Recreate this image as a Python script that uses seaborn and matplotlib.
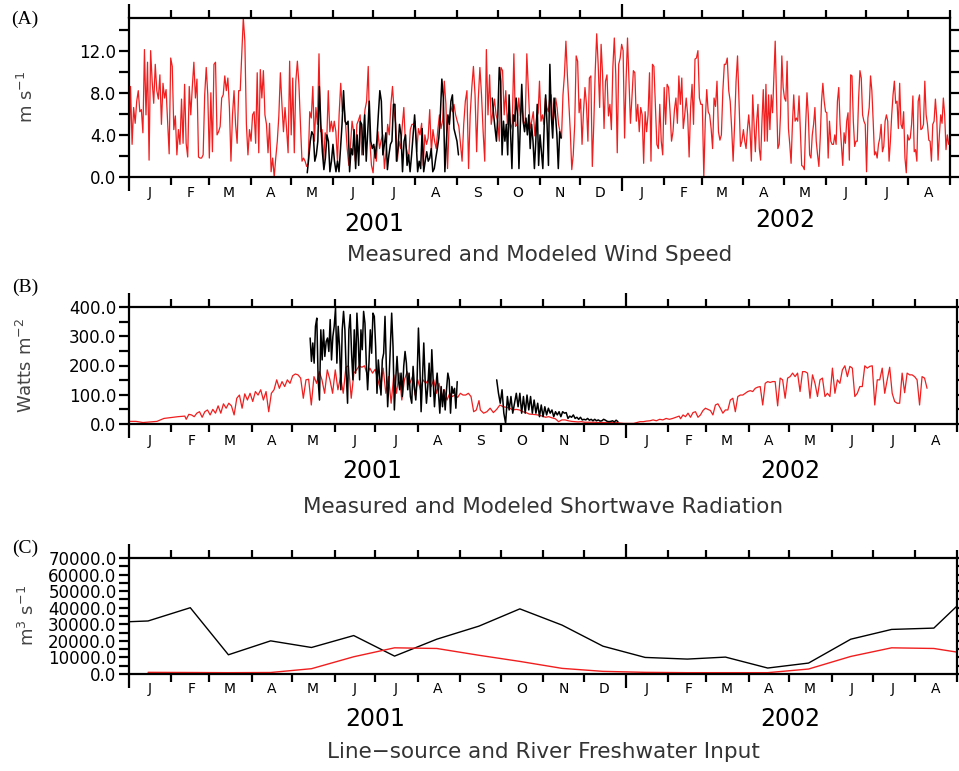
import numpy as np
import pandas as pd
import seaborn as sns
import matplotlib.pyplot as plt
import matplotlib.dates as mdates
import matplotlib.ticker as mticker

sns.set_style('ticks', {'axes.edgecolor': 'black', 'xtick.color': 'black', 'ytick.color': 'black',
                        'text.color': 'black'})
plt.rcParams['font.family'] = ['DejaVu Sans']

# ---- (A) wind speed, m/s ----
# modelled wind, read in four chunks along the time axis
wind_mod_1 = [2.4, 8.6, 3.1, 6.6, 5.1, 7.2, 8.2, 6.2, 6.4, 4.2, 12.1, 5.9, 10.9, 1.6, 12.0, 9.1, 7.0, 10.7,
              8.2, 7.4, 9.7, 5.0, 8.9, 7.5, 8.3, 5.3, 2.2, 11.3, 10.5, 4.5, 5.8, 2.1, 4.5, 3.1, 7.4, 3.2,
              8.8, 3.2, 1.9, 8.6, 5.9, 8.6, 10.9, 7.5, 9.3, 1.9, 1.8, 1.8, 2.1, 7.8, 10.4, 7.8, 1.8, 8.0,
              2.4, 10.7, 10.9, 4.0, 4.3, 4.8, 7.5, 7.8, 9.6, 8.2, 9.4, 6.6, 1.5, 5.9, 8.2, 5.0, 3.2, 8.2,
              8.2, 11.7, 15.1, 12.9, 5.0, 2.1, 4.5, 3.4, 5.9, 6.2, 3.2, 9.9, 2.3, 10.2, 7.5, 10.1, 5.9,
              5.0, 2.3, 5.1, 0.5, 1.8, 0.0, 1.8, 3.4, 5.8, 9.9, 6.9, 4.3, 6.6, 4.6, 2.3, 11.0, 4.0, 9.4,
              2.3, 9.1, 11.0, 8.8, 5.0, 1.5, 1.8, 1.5, 1.0, 1.3, 6.2, 5.6, 8.6, 3.4, 6.6, 5.0, 11.7, 4.3,
              4.5, 1.5, 4.2, 3.4, 8.2, 4.3, 5.3, 4.3]
wind_mod_2 = [5.3, 4.3, 1.5, 5.9, 8.9, 6.2, 6.9, 5.0, 2.7, 1.1, 2.9, 5.3, 4.3, 1.5, 5.0, 5.4, 5.9, 2.1,
              4.6, 6.4, 7.2, 10.5, 3.4, 1.1, 0.4, 2.9, 1.5, 4.3, 2.7, 3.5, 4.0, 0.8, 2.4, 5.0, 4.0, 6.9,
              8.6, 6.2, 5.0, 1.5, 3.4, 2.7, 4.8, 6.6, 3.1, 2.4, 1.8, 4.5, 5.0, 5.0, 5.3, 2.4, 4.6, 4.0,
              5.1, 1.1, 4.0, 3.1, 3.7, 6.4, 2.4, 4.5, 3.4, 2.7, 4.5, 5.9, 4.6, 5.4, 9.1, 6.9, 0.8, 5.0,
              6.7, 6.2, 6.9, 5.9, 5.3, 4.8, 3.1, 1.5, 5.0, 7.2, 8.2, 0.8, 5.9, 8.5, 10.5, 7.8, 2.4, 7.4,
              10.4, 7.8, 4.3, 1.5, 12.1, 5.9, 9.7, 5.0, 6.2, 7.4, 5.9, 5.3, 3.4, 10.4, 10.1, 5.9, 8.2,
              5.0, 6.6, 4.5, 5.1, 11.7, 4.8, 5.0, 7.5, 5.8, 6.7, 5.0, 5.3, 11.7, 8.2, 4.6, 5.3, 6.2,
              3.9, 5.6, 6.1]
wind_mod_3 = [9.1, 5.3, 5.9, 5.0, 7.5, 6.6, 6.2, 7.5, 7.8, 5.0, 5.9, 7.5, 6.6, 5.0, 4.3, 3.7, 7.8, 9.7,
              12.9, 9.7, 6.9, 4.3, 0.7, 2.1, 5.0, 11.5, 11.0, 6.1, 7.4, 3.1, 6.2, 8.5, 6.9, 3.4, 9.4,
              9.6, 1.0, 5.0, 10.1, 13.6, 10.7, 6.6, 12.6, 9.7, 4.6, 9.1, 9.7, 5.8, 6.9, 4.5, 10.4, 13.2,
              9.7, 2.3, 10.7, 11.3, 12.6, 12.0, 3.7, 9.1, 13.2, 9.1, 5.1, 7.5, 10.1, 9.9, 5.3, 6.9, 4.3,
              6.6, 5.9, 1.3, 6.2, 4.3, 5.9, 9.9, 1.5, 10.7, 10.5, 6.9, 3.1, 2.7, 6.9, 3.4, 2.1, 8.5, 5.0,
              8.8, 8.5, 6.2, 3.4, 4.3, 6.4, 7.5, 5.1, 9.6, 6.9, 9.4, 4.6, 5.9, 7.5, 5.9, 1.9, 6.6, 8.8,
              5.0, 11.2, 11.3, 12.0, 7.5, 6.9, 6.9, 0.0, 5.3, 8.3, 6.2, 5.9, 4.6, 2.7, 7.5, 6.7, 9.1,
              4.3, 3.5, 4.0, 8.2, 10.7, 10.7, 11.3, 8.2, 7.2, 4.6, 1.5, 5.0, 9.1, 11.5, 7.2, 2.9, 3.4,
              4.5]
wind_mod_4 = [3.4, 2.7, 4.5, 5.9, 4.3, 1.5, 7.8, 5.0, 2.4, 5.3, 6.9, 2.7, 1.6, 5.3, 8.3, 3.4, 8.8, 3.4,
              7.8, 4.5, 7.8, 6.1, 9.4, 12.9, 7.5, 2.7, 3.1, 5.9, 11.5, 8.5, 7.5, 7.2, 11.0, 4.6, 3.1,
              1.3, 5.0, 7.8, 5.3, 5.6, 5.3, 7.7, 4.3, 1.1, 1.0, 0.7, 5.0, 8.0, 5.9, 2.1, 1.8, 4.0, 5.0,
              6.6, 3.4, 2.1, 1.0, 3.7, 7.2, 8.9, 7.2, 6.2, 6.1, 1.8, 5.3, 3.4, 3.1, 3.1, 4.0, 3.1, 7.2,
              8.5, 5.0, 3.1, 1.1, 4.2, 3.2, 5.3, 6.1, 1.6, 9.7, 9.6, 5.3, 2.9, 3.4, 3.4, 7.5, 10.1, 9.4,
              5.9, 5.3, 5.0, 0.5, 5.6, 6.6, 9.6, 8.2, 5.3, 2.1, 2.4, 1.8, 3.1, 3.7, 5.0, 2.4, 2.9, 5.3,
              5.9, 5.3, 1.5, 3.4, 5.9, 7.8, 9.1, 7.0, 7.2, 4.6, 8.9, 5.0, 4.6, 6.2, 1.8, 0.4, 4.0, 3.5,
              3.7, 5.0, 7.7, 2.4, 2.6, 1.5, 7.2, 7.8, 4.5, 4.6, 5.0, 9.1, 5.9, 5.0, 3.5, 3.4, 1.5, 5.0,
              5.3, 7.4, 5.6, 1.6, 4.0, 5.9, 5.1, 7.5, 5.9, 2.6, 4.0, 3.1]
wind_mod_spans = [('2001-01-01', '2001-06-01'), ('2001-06-02', '2001-10-31'),
                  ('2001-11-01', '2002-04-01'), ('2002-04-02', '2002-08-31')]

# measured wind (two records with a gap)
wind_obs_1 = [0.4, 1.8, 3.4, 4.3, 4.0, 1.5, 2.1, 3.4, 8.6, 5.0, 2.4, 0.7, 1.8, 4.0, 3.4, 0.5, 1.5, 3.1,
              1.5, 0.5, 1.5, 0.5, 2.7, 5.0, 8.2, 5.3, 5.0, 5.3, 0.5, 2.7, 2.1, 4.5, 0.8, 4.0, 1.1, 5.3,
              5.0, 2.1, 5.9, 1.5, 4.3, 7.2, 3.4, 2.7, 3.1, 1.8, 3.4, 5.9, 8.2, 7.2, 2.1, 3.1, 4.2, 0.7,
              2.1, 3.1, 3.4, 6.9, 6.9, 1.5, 2.7, 5.0, 4.0, 0.5, 3.4, 4.0, 1.1, 2.1, 0.5, 2.1, 4.0, 5.9,
              3.4, 0.5, 1.5, 0.8, 4.6, 0.5, 1.5, 2.4, 1.5, 1.8, 2.7, 0.5, 0.8, 1.8, 2.7, 3.7, 5.9, 9.3,
              7.5, 0.5, 3.4, 5.9, 5.0, 7.2, 7.8, 4.6, 4.0, 3.4, 2.1]
wind_obs_2 = [7.5, 5.9, 4.6, 3.4, 5.9, 10.4, 9.1, 2.1, 5.3, 3.4, 5.0, 2.1, 7.8, 4.3, 0.8, 5.9, 5.3, 7.5,
              5.9, 0.8, 5.0, 8.8, 5.3, 4.3, 5.6, 4.0, 5.9, 2.7, 5.0, 3.4, 0.8, 3.4, 6.9, 1.1, 4.0, 2.4,
              0.8, 5.0, 7.8, 5.0, 1.1, 10.7, 5.9, 3.7, 7.5, 5.9, 4.0, 0.8, 4.3, 3.7]
wind_obs_spans = [('2001-05-13', '2001-09-02'), ('2001-09-27', '2001-11-17')]

# ---- (B) shortwave radiation, W/m2 ----
sw_mod_1 = [9, 9, 5, 7, 9, 19, 22, 25, 27]
sw_mod_2 = [16, 33, 31, 25, 37, 42, 23, 42, 48, 31, 50, 37, 62, 37, 69, 54, 71, 62, 31, 88, 99, 54, 103,
            82, 105, 77, 111, 99, 117, 82, 111, 42, 105, 117, 151, 122, 145, 128, 151, 139, 165, 171, 168,
            157, 88, 151, 153, 65, 162, 139, 179, 151, 105, 185, 151, 105, 185, 117, 162, 105, 194, 199,
            88, 174, 185, 199, 194, 199, 168, 191, 174, 187, 151, 117, 191, 105, 162, 71, 168, 105, 174,
            82, 151, 179, 139, 162, 99, 151, 117, 151, 139, 151, 128, 151, 105, 139, 88, 117, 82, 105,
            94, 99, 91, 105, 99, 99, 105, 94, 42, 48, 80]
sw_mod_3 = [48, 37, 42, 54, 39, 50, 65, 59, 57, 54, 48, 50, 48, 42, 39, 34, 33, 32, 30, 27, 23, 25, 21,
            18, 8, 14, 14, 11, 9, 8, 7, 8, 6, 6, 6, 6, 5, 5, 5, 5, 5, 5, 5, 3, 2, 2, 2, 2, 5, 8, 8, 10,
            11, 14, 11, 16, 14, 19, 16, 19, 23, 27]
sw_mod_4 = [18, 31, 25, 37, 23, 39, 42, 23, 31, 46, 54, 50, 46, 31, 65, 69, 54, 37, 48, 48, 82, 88, 42,
            94, 99, 99, 105, 111, 114, 111, 122, 126, 128, 65, 139, 145, 142, 145, 145, 62, 157, 151, 88,
            157, 162, 174, 162, 174, 111, 179, 179, 174, 88, 168, 139, 94, 151, 157, 94, 105, 94, 191,
            105, 151, 139, 185, 199, 162, 197, 191, 94, 105, 128, 128, 199, 191, 197, 199, 65, 151, 151,
            191, 105, 151, 194, 105, 77, 71, 71, 174, 107, 174, 168, 168, 162, 151, 65, 162, 157, 122]
sw_mod_spans = [('2001-01-01', '2001-02-11'), ('2001-02-12', '2001-09-15'),
                ('2001-09-16', '2002-02-09'), ('2002-02-10', '2002-08-10')]

sw_obs_1 = [294, 214, 277, 208, 334, 362, 151, 82, 322, 219, 322, 231, 282, 294, 248, 357, 219, 299, 334,
            397, 208, 334, 265, 117, 322, 385, 322, 174, 71, 322, 374, 242, 151, 322, 174, 379, 288, 151,
            322, 254, 385, 345, 208, 117, 208, 322, 242, 379, 368, 265, 105, 219, 162, 99, 219, 242, 368,
            197, 59, 151, 265, 379, 265, 48, 151, 231, 151, 117, 174, 94, 197, 248, 208, 117, 174, 94, 71,
            197, 128, 82, 151, 328, 208, 42, 151, 277, 151, 71, 128, 208, 94, 254, 151, 59, 128, 174,
            105, 37, 128, 59, 117, 48, 117, 174, 151, 37, 128, 105, 122, 54, 145]
sw_obs_2 = [151, 105, 71, 117, 37, 2, 94, 48, 94, 37, 71, 105, 59, 105, 37, 94, 37, 99, 48, 94, 37, 82,
            37, 71, 25, 65, 25, 59, 31, 54, 37, 48, 25, 42, 31, 42, 25, 42, 37, 39, 19, 27, 23, 31, 19,
            23, 16, 23, 14, 16, 14, 19, 13, 16, 11, 16, 11, 14, 10, 11, 16, 13, 9, 8, 9, 11, 7, 13, 8]
sw_obs_spans = [('2001-05-14', '2001-08-30'), ('2001-09-28', '2001-12-26')]

# ---- (C) freshwater input, m3/s (monthly, mid-month) ----
river_months = pd.date_range('2000-12-01', '2002-09-01', freq='MS') + pd.Timedelta(days=14)
river_flow = [31000, 32000, 40000, 11600, 20000, 16000, 23200, 10800, 21000, 28900, 39300, 29500,
              16800, 10000, 9000, 10200, 3600, 6600, 21000, 26900, 27700, 52000]
line_source = [1000, 900, 800, 900, 3200, 10400, 15800, 15400, 11300, 7600, 3400, 1600,
               1000, 800, 800, 800, 3000, 10600, 15800, 15400, 11400]

month_letters = ['J', 'F', 'M', 'A', 'M', 'J', 'J', 'A', 'S', 'O', 'N', 'D',
                 'J', 'F', 'M', 'A', 'M', 'J', 'J', 'A']

RED = '#f01e1e'


def to_frame(parts, spans):
    frames = []
    for vals, (a, b) in zip(parts, spans):
        frames.append(pd.DataFrame({'date': pd.date_range(a, b, periods=len(vals)), 'val': vals}))
    return pd.concat(frames, ignore_index=True)


fig = plt.figure(figsize=(9.59, 7.71), dpi=100)
W, H = 959.0, 771.0


def add_axes(left, right, top, bottom):
    return fig.add_axes([left / W, 1 - bottom / H, (right - left) / W, (bottom - top) / H])


axA = add_axes(129, 950, 18, 177)
axB = add_axes(129, 957, 307, 424)
axC = add_axes(129, 957, 558, 674)

# A
sns.lineplot(data=to_frame([wind_mod_1, wind_mod_2, wind_mod_3, wind_mod_4], wind_mod_spans),
             x='date', y='val', ax=axA, color=RED, lw=0.9)
for vals, (a, b) in zip([wind_obs_1, wind_obs_2], wind_obs_spans):
    sns.lineplot(x=pd.date_range(a, b, periods=len(vals)), y=vals, ax=axA, color='black', lw=1.1)

# B
sns.lineplot(data=to_frame([sw_mod_1, sw_mod_2, sw_mod_3, sw_mod_4], sw_mod_spans),
             x='date', y='val', ax=axB, color=RED, lw=0.9)
for vals, (a, b) in zip([sw_obs_1, sw_obs_2], sw_obs_spans):
    sns.lineplot(x=pd.date_range(a, b, periods=len(vals)), y=vals, ax=axB, color='black', lw=1.1)

# C
sns.lineplot(x=river_months, y=river_flow, ax=axC, color='black', lw=1.0)
sns.lineplot(x=river_months[1:], y=line_source, ax=axC, color=RED, lw=1.0)

mid_months = pd.date_range('2001-01-01', '2002-08-01', freq='MS') + pd.Timedelta(days=15)


def style(ax, ymax, major, minor, letter_off):
    ax.set_xlim(pd.Timestamp('2001-01-01'), pd.Timestamp('2002-09-01'))
    ax.set_ylim(0, ymax)
    ax.set_xlabel('')
    ax.set_ylabel('')
    ax.xaxis.set_major_locator(mdates.YearLocator())
    ax.xaxis.set_minor_locator(mdates.MonthLocator())
    ax.xaxis.set_major_formatter(mticker.NullFormatter())
    ax.xaxis.set_minor_formatter(mticker.NullFormatter())
    ax.yaxis.set_major_locator(mticker.MultipleLocator(major))
    ax.yaxis.set_minor_locator(mticker.MultipleLocator(minor))
    ax.yaxis.set_major_formatter(mticker.FormatStrFormatter('%.1f'))
    ax.tick_params(axis='x', which='major', length=10, width=1.6, direction='out', top=True, bottom=True,
                   color='black')
    ax.tick_params(axis='x', which='minor', length=6, width=1.6, direction='out', top=True, bottom=True,
                   color='black')
    ax.tick_params(axis='y', which='both', length=7, width=1.6, direction='out', color='black',
                   labelcolor='black', left=True, right=True, labelsize=12, pad=2)
    for s in ax.spines.values():
        s.set_visible(True)
        s.set_linewidth(1.6)
        s.set_color('black')
    for d, m in zip(mid_months, month_letters):
        ax.annotate(m, xy=(mdates.date2num(d), 0), xycoords=('data', 'axes fraction'),
                    xytext=(0, -letter_off), textcoords='offset pixels',
                    ha='center', va='center', fontsize=10, color='black')


style(axA, 15.1, 4, 2, 16)
style(axB, 400, 100, 50, 17)
style(axC, 70000, 10000, 5000, 15)

# labels
lab_col = '#444444'
fig.text(27 / W, 1 - 97 / H, 'm s$^{-1}$', rotation=90, ha='center', va='center', fontsize=13, color=lab_col)
fig.text(26 / W, 1 - 365 / H, 'Watts m$^{-2}$', rotation=90, ha='center', va='center', fontsize=13, color=lab_col)
fig.text(28 / W, 1 - 616 / H, 'm$^{3}$ s$^{-1}$', rotation=90, ha='center', va='center', fontsize=13, color=lab_col)

for txt, y in [('(A)', 19), ('(B)', 287), ('(C)', 548)]:
    fig.text(25 / W, 1 - y / H, txt, ha='center', va='center', fontsize=14, family='Liberation Serif',
             color='black')

for (x, y, t) in [(374, 224, '2001'), (785, 220, '2002'), (372, 471, '2001'), (790, 471, '2002'),
                  (375, 719, '2001'), (790, 719, '2002')]:
    fig.text(x / W, 1 - y / H, t, ha='center', va='center', fontsize=17, color='black')

title_col = '#333333'
fig.text(540 / W, 1 - 255 / H, 'Measured and Modeled Wind Speed', ha='center', va='center',
         fontsize=15.5, color=title_col)
fig.text(543 / W, 1 - 507 / H, 'Measured and Modeled Shortwave Radiation', ha='center', va='center',
         fontsize=15.5, color=title_col)
fig.text(543 / W, 1 - 752 / H, 'Line\u2212source and River Freshwater Input', ha='center', va='center',
         fontsize=15.5, color=title_col)

fig.savefig('out.png', dpi=100)
